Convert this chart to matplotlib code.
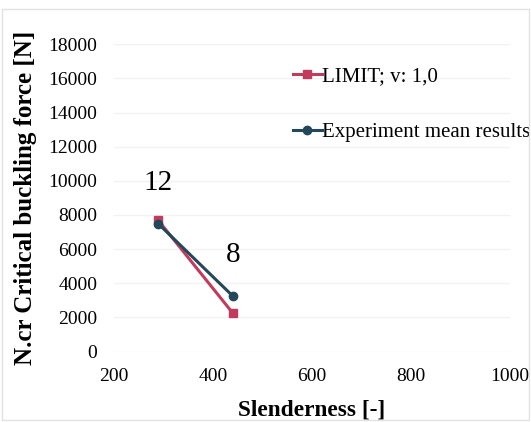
import matplotlib.pyplot as plt
from matplotlib.patches import Rectangle

# slenderness vs critical buckling force
slenderness = [289, 440]
limit_force = [7700, 2250]
exp_force = [7500, 3250]
specimen_labels = ["12", "8"]
label_force = [9900, 5650]

x_ticks = [200, 400, 600, 800, 1000]
y_ticks = list(range(0, 18001, 2000))

RED = "#c23b5c"
TEAL = "#23485a"
SERIF = ["Liberation Serif", "DejaVu Serif"]


def main():
    plt.rcParams["font.family"] = SERIF
    fig = plt.figure(figsize=(5.31, 4.22), dpi=100)
    fig.patch.set_facecolor("white")
    fig.add_artist(Rectangle((0.004, 0.004), 0.992, 0.975, transform=fig.transFigure,
                             fill=False, edgecolor="#e2e2e2", lw=1.0))

    ax = fig.add_axes([0.2147, 0.167, 0.7458, 0.728])
    ax.plot(slenderness, limit_force, color=RED, marker="s", ms=6, lw=2.2,
            label="LIMIT; v: 1,0", zorder=3)
    ax.plot(slenderness, exp_force, color=TEAL, marker="o", ms=6, lw=2.2,
            label="Experiment mean results", zorder=4)

    for x, y, s in zip(slenderness, label_force, specimen_labels):
        ax.text(x, y, s, fontsize=21, ha="center", va="center")

    ax.set_xlim(200, 1000)
    ax.set_ylim(0, 18000)
    ax.set_xticks(x_ticks)
    ax.set_yticks(y_ticks)
    ax.tick_params(length=0, labelsize=14, pad=12)
    ax.grid(axis="y", color="#f2f2f2", lw=1)
    for sp in ax.spines.values():
        sp.set_visible(False)

    ax.set_xlabel("Slenderness [-]", fontsize=16.8, fontweight="bold", labelpad=10)
    ax.set_ylabel("N.cr Critical buckling force [N]", fontsize=18, fontweight="bold",
                  labelpad=8)

    ax.legend(loc="upper left", bbox_to_anchor=(0.43, 0.955), frameon=False,
              fontsize=15, handlelength=1.4, handletextpad=0.0, labelspacing=1.75,
              borderaxespad=0)

    fig.savefig("out.png", dpi=100)


if __name__ == "__main__":
    main()
